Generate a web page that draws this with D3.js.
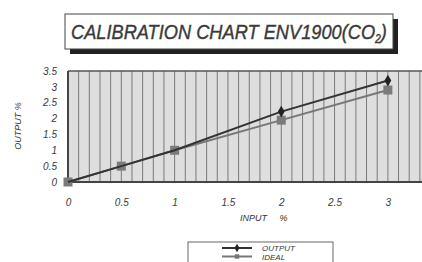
<!DOCTYPE html>
<html>
<head>
<meta charset="utf-8">
<script src="https://cdn.jsdelivr.net/npm/d3@7"></script>
<style>
  body { margin: 0; background: #fff; }
  text { font-family: 'Liberation Sans', Arial, sans-serif; font-style: italic; fill: #333; }
</style>
</head>
<body>
<script>
// chart values
const inputs = [0, 0.5, 1, 2, 3];
const output = [0, 0.5, 1, 2.22, 3.2];
const ideal = [0, 0.5, 1, 1.95, 2.9];
const xTicks = [0, 0.5, 1, 1.5, 2, 2.5, 3];
const yTicks = [0, 0.5, 1, 1.5, 2, 2.5, 3, 3.5];
const seriesNames = ['OUTPUT', 'IDEAL'];

const size = { width: 422, height: 262 };
const plot = { left: 68, right: 422, top: 71, bottom: 182 };

const svg = d3.select('body').append('svg')
  .attr('width', size.width)
  .attr('height', size.height);

// title box with drop shadow
svg.append('rect').attr('x', 70).attr('y', 19).attr('width', 328).attr('height', 35).attr('fill', '#222');
svg.append('rect').attr('x', 65).attr('y', 14).attr('width', 328).attr('height', 35)
  .attr('fill', '#fff').attr('stroke', '#444').attr('stroke-width', 1);
const titleG = svg.append('g');
const title = titleG.append('text').attr('x', 0).attr('y', 0)
  .attr('font-size', 21)
  .style('fill', '#3a3a3a').style('stroke', '#3a3a3a').style('stroke-width', 0.4);
title.append('tspan').text('CALIBRATION CHART ENV1900(CO');
title.append('tspan').attr('font-size', 12).attr('dy', 4).text('2');
title.append('tspan').attr('dy', -4).text(')');
// squeeze the title horizontally to fit the box, like the condensed original
const tw = title.node().getBBox().width;
titleG.attr('transform', `translate(71,39) scale(${316 / tw},1)`);

const x = d3.scaleLinear().domain([0, 3.32]).range([plot.left, plot.right]);
const y = d3.scaleLinear().domain([0, 3.5]).range([plot.bottom, plot.top]);

// plot background
svg.append('rect')
  .attr('x', plot.left).attr('y', plot.top)
  .attr('width', plot.right - plot.left).attr('height', plot.bottom - plot.top)
  .attr('fill', '#dedede');

// vertical grid every 0.1
svg.append('g')
  .selectAll('line')
  .data(d3.range(1, 34).map((i) => i / 10))
  .enter()
  .append('line')
  .attr('x1', (d) => x(d)).attr('x2', (d) => x(d))
  .attr('y1', plot.top).attr('y2', plot.bottom)
  .attr('stroke', '#7a7a7a').attr('stroke-width', 1);

// frame
svg.append('line').attr('x1', plot.left).attr('x2', plot.right).attr('y1', plot.top).attr('y2', plot.top)
  .attr('stroke', '#555').attr('stroke-width', 1.5);
svg.append('line').attr('x1', plot.left).attr('x2', plot.right).attr('y1', plot.bottom).attr('y2', plot.bottom)
  .attr('stroke', '#444').attr('stroke-width', 2);
svg.append('line').attr('x1', plot.left).attr('x2', plot.left).attr('y1', plot.top).attr('y2', plot.bottom)
  .attr('stroke', '#444').attr('stroke-width', 2);

// axes (labels only)
const xAxis = svg.append('g')
  .attr('transform', `translate(0,${plot.bottom + 14})`)
  .call(d3.axisBottom(x).tickValues(xTicks).tickSize(0).tickFormat(d3.format('')));
xAxis.select('.domain').remove();
xAxis.selectAll('text').attr('font-size', 10).style('font-family', null).style('fill', '#3a3a3a');

const yAxis = svg.append('g')
  .attr('transform', `translate(${plot.left - 8},0)`)
  .call(d3.axisLeft(y).tickValues(yTicks).tickSize(0).tickFormat(d3.format('')));
yAxis.select('.domain').remove();
yAxis.selectAll('text').attr('font-size', 10).style('font-family', null).style('fill', '#3a3a3a');

svg.append('text').attr('x', 240).attr('y', 221).attr('font-size', 9)
  .attr('xml:space', 'preserve').text('INPUT     %');
svg.append('text').attr('transform', 'translate(21,126) rotate(-90)')
  .attr('text-anchor', 'middle').attr('font-size', 9).text('OUTPUT  %');

// series
const line = d3.line().x((d) => x(d[0])).y((d) => y(d[1]));
const idealPts = inputs.map((v, i) => [v, ideal[i]]);
const outPts = inputs.map((v, i) => [v, output[i]]);

svg.append('path').datum(idealPts).attr('d', line)
  .attr('fill', 'none').attr('stroke', '#777').attr('stroke-width', 2);
svg.append('g').selectAll('rect').data(idealPts).enter().append('rect')
  .attr('x', (d) => x(d[0]) - 4.5).attr('y', (d) => y(d[1]) - 4.5)
  .attr('width', 9).attr('height', 9).attr('fill', '#7b7b7b');

svg.append('path').datum(outPts).attr('d', line)
  .attr('fill', 'none').attr('stroke', '#333').attr('stroke-width', 2);
svg.append('g').selectAll('path').data(outPts.slice(3)).enter().append('path')
  .attr('d', d3.symbol().type(d3.symbolDiamond).size(40))
  .attr('transform', (d) => `translate(${x(d[0])},${y(d[1])})`)
  .attr('fill', '#222');

// legend
svg.append('rect').attr('x', 188).attr('y', 242).attr('width', 145).attr('height', 24)
  .attr('fill', '#fff').attr('stroke', '#666');
const leg = svg.append('g').selectAll('g').data(seriesNames).enter().append('g')
  .attr('transform', (d, i) => `translate(0,${248 + i * 8.5})`);
leg.append('line').attr('x1', 222).attr('x2', 252).attr('y1', 0).attr('y2', 0)
  .attr('stroke', (d, i) => (i === 0 ? '#333' : '#777')).attr('stroke-width', 2);
leg.append('path')
  .attr('d', (d, i) => d3.symbol().type(i === 0 ? d3.symbolDiamond : d3.symbolSquare).size(i === 0 ? 22 : 20)())
  .attr('transform', 'translate(237,0)')
  .attr('fill', (d, i) => (i === 0 ? '#222' : '#777'));
leg.append('text').attr('x', 262).attr('y', 3).attr('font-size', 8).text((d) => d);
</script>
</body>
</html>
